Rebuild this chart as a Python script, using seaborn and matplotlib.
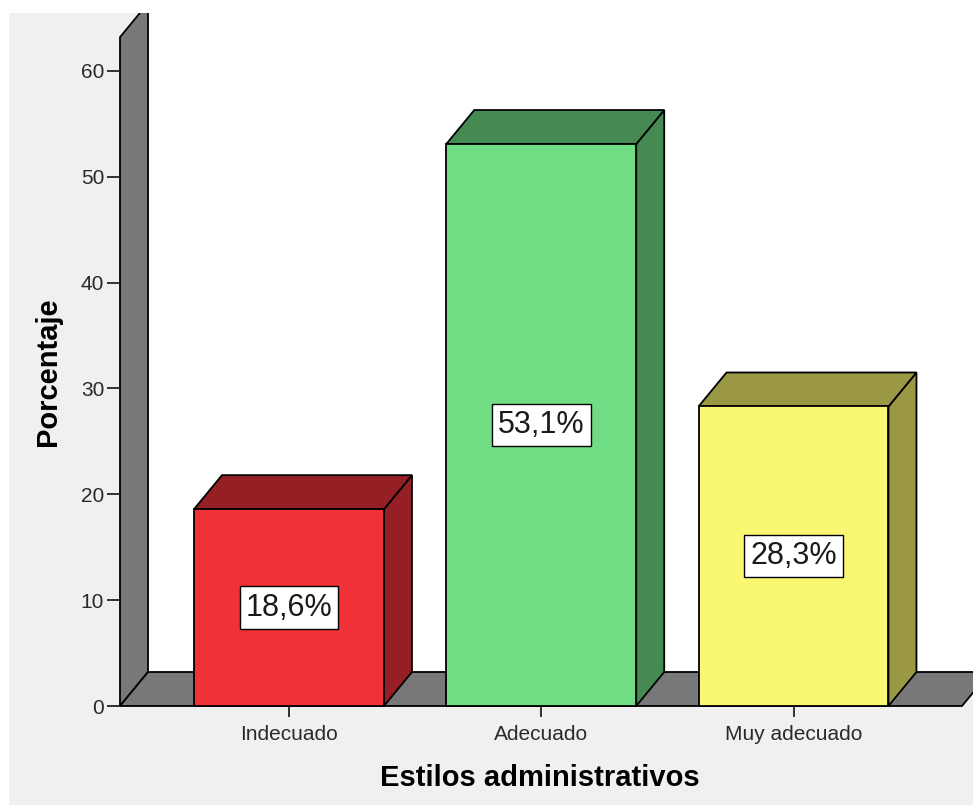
import matplotlib
matplotlib.use('Agg')
import matplotlib.pyplot as plt
import seaborn as sns
import pandas as pd
from matplotlib.patches import Polygon, Rectangle

# ---- data ----
categories = ["Indecuado", "Adecuado", "Muy adecuado"]
percentages = [18.6, 53.1, 28.3]
value_labels = ["18,6%", "53,1%", "28,3%"]
y_ticks = [0, 10, 20, 30, 40, 50, 60]
x_title = "Estilos administrativos"
y_title = "Porcentaje"

front_colors = ["#F03138", "#70DD84", "#FAF773"]
dark_colors = ["#951F24", "#448A52", "#9A9844"]

sns.set_theme(style="white")
plt.rcParams['font.family'] = ['Liberation Sans', 'DejaVu Sans']

W, H = 973, 805
fig = plt.figure(figsize=(W / 100, H / 100), dpi=100, facecolor="#f0f0f0")
fig.patches.append(Rectangle((0, 0), 9 / W, 1, transform=fig.transFigure,
                             facecolor="white", edgecolor="none", zorder=-5))
fig.patches.append(Rectangle((0, 1 - 13 / H), 1, 13 / H, transform=fig.transFigure,
                             facecolor="white", edgecolor="none", zorder=-5))

ax_px_w, ax_px_h = 853, 693
ax = fig.add_axes([120 / W, 99 / H, ax_px_w / W, ax_px_h / H])
ax.set_facecolor("none")

df = pd.DataFrame({"cat": categories, "pct": percentages})
sns.barplot(data=df, x="cat", y="pct", hue="cat", palette=front_colors,
            width=0.753, edgecolor="black", linewidth=1.3, saturation=1,
            legend=False, ax=ax)

xl, xr = -0.67, 2.7116
ax.set_xlim(xl, xr)
ax.set_ylim(0, 65.48)
ux = (xr - xl) / ax_px_w
uy = 65.48 / ax_px_h
dx, dy = 28 * ux, 34 * uy
wall_top = 63.2
floor_right = 2.668

clip = Rectangle((-0.01, -0.01), 1.02, 1.01, transform=ax.transAxes,
                 facecolor="none", edgecolor="none")
ax.add_artist(clip)
clip.set_visible(False)


def add_poly(pts, fc, z, ec="black", lw=1.3):
    p = Polygon(pts, closed=True, facecolor=fc, edgecolor=ec, linewidth=lw,
                zorder=z, joinstyle="miter")
    ax.add_patch(p)
    p.set_clip_path(clip)
    return p


# back plane
add_poly([(xl + dx, dy), (xr + 5, dy), (xr + 5, 200), (xl + dx, 200)], "white", 0.1,
         ec="none", lw=0)
# wall
add_poly([(xl, 0), (xl + dx, dy), (xl + dx, wall_top + dy), (xl, wall_top)], "#787878", 0.5)
# floor
add_poly([(xl, 0), (floor_right, 0), (floor_right + dx, dy), (xl + dx, dy)], "#787878", 0.6)

bars = [p for p in ax.patches if isinstance(p, Rectangle) and p.get_height() > 0 and p.get_width() < 1]
bars = sorted(bars, key=lambda p: p.get_x())[:len(categories)]
for p, dc, lab in zip(bars, dark_colors, value_labels):
    x0, w, h = p.get_x(), p.get_width(), p.get_height()
    add_poly([(x0 + w, 0), (x0 + w + dx, dy), (x0 + w + dx, h + dy), (x0 + w, h)], dc, 2)
    add_poly([(x0, h), (x0 + w, h), (x0 + w + dx, h + dy), (x0 + dx, h + dy)], dc, 2)
    p.set_zorder(3)
    p.set_clip_path(clip)
    ax.text(x0 + w / 2, h / 2, lab, ha="center", va="center", fontsize=22,
            color="#1a1a1a", zorder=5,
            bbox=dict(boxstyle="square,pad=0.2", facecolor="white",
                      edgecolor="black", linewidth=1.0))

for s in ax.spines.values():
    s.set_visible(False)

ax.set_yticks(y_ticks)
ax.tick_params(axis="y", left=True, length=9.4, width=1.3, color="#222222",
               labelsize=15, pad=2, labelcolor="#2a2a2a")
ax.tick_params(axis="x", bottom=True, length=8, width=1.3, color="#222222",
               labelsize=15, pad=6, labelcolor="#2a2a2a")

ax.set_xlabel(x_title, fontsize=21, fontweight="bold", color="black")
ax.set_ylabel(y_title, fontsize=21, fontweight="bold", color="black")
ax.xaxis.set_label_coords((540 - 120) / ax_px_w, (706 - 778) / ax_px_h)
ax.xaxis.label.set_verticalalignment("center")
ax.yaxis.set_label_coords((48 - 120) / ax_px_w, (706 - 372) / ax_px_h)
ax.yaxis.label.set_verticalalignment("center")

fig.savefig("out.png", dpi=100, facecolor=fig.get_facecolor())
